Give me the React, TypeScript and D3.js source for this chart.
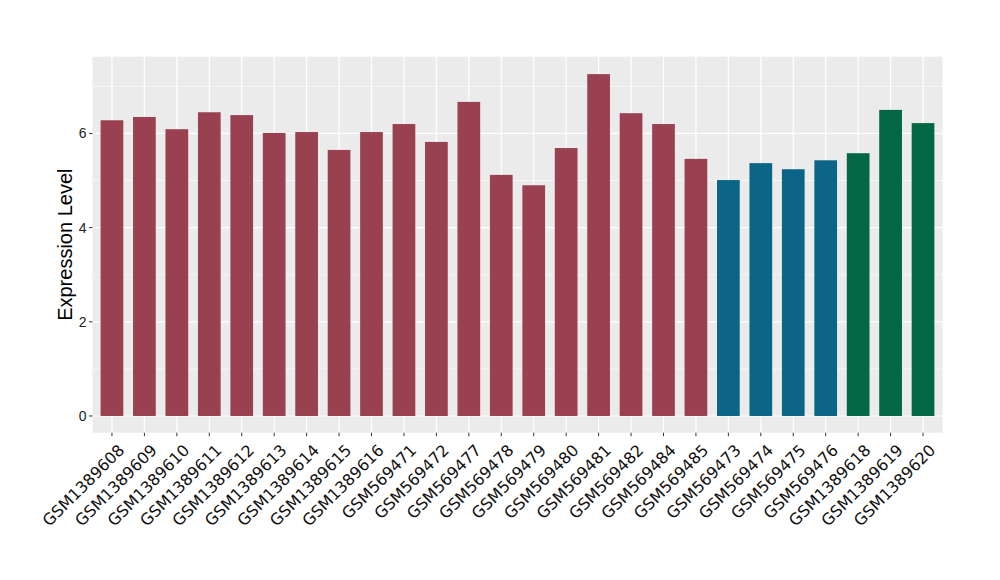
import React from "react";
import * as d3 from "d3";

const samples = ["GSM1389608","GSM1389609","GSM1389610","GSM1389611","GSM1389612","GSM1389613","GSM1389614","GSM1389615","GSM1389616","GSM569471","GSM569472","GSM569477","GSM569478","GSM569479","GSM569480","GSM569481","GSM569482","GSM569484","GSM569485","GSM569473","GSM569474","GSM569475","GSM569476","GSM1389618","GSM1389619","GSM1389620"];
const values = [6.28,6.35,6.09,6.45,6.39,6.01,6.03,5.65,6.03,6.2,5.82,6.67,5.12,4.9,5.69,7.26,6.43,6.2,5.46,5.01,5.37,5.24,5.43,5.58,6.5,6.22];
const groups = [0,0,0,0,0,0,0,0,0,0,0,0,0,0,0,0,0,0,0,1,1,1,1,2,2,2];
const groupColors = ["#9A4151","#0A6587","#016745"];
const yTicks = [0,2,4,6];
const yMinor = [1,3,5,7];

export default function App() {
  const W = 1000, H = 580;
  const left = 92.5, right = 942.5, top = 56.7, bottom = 432.7;
  const n = samples.length;
  const step = (right - left) / (n - 1 + 1.2);
  const x = (i: number) => left + (0.6 + i) * step;
  const barW = step * 0.7;
  const y = d3.scaleLinear().domain([-0.355, 7.63]).range([bottom, top]);
  const font = "Liberation Sans, Arial, sans-serif";
  const xfont = "DejaVu Sans, sans-serif";
  return (
    <svg width={W} height={H} style={{ display: "block", position: "absolute", left: 0, top: 0 }}>
      <rect x={0} y={0} width={W} height={H} fill="#fff" />
      <rect x={left} y={top} width={right - left} height={bottom - top} fill="#EBEBEB" />
      {yMinor.map(t => (
        <line key={"m" + t} x1={left} x2={right} y1={y(t)} y2={y(t)} stroke="#fff" strokeWidth={0.6} />
      ))}
      {yTicks.map(t => (
        <line key={"g" + t} x1={left} x2={right} y1={y(t)} y2={y(t)} stroke="#fff" strokeWidth={1.2} />
      ))}
      {samples.map((s, i) => (
        <line key={"v" + s} x1={x(i)} x2={x(i)} y1={top} y2={bottom} stroke="#fff" strokeWidth={1.2} />
      ))}
      {samples.map((s, i) => (
        <rect key={"b" + s} x={x(i) - barW / 2} y={y(values[i])} width={barW} height={y(0) - y(values[i])} fill={groupColors[groups[i]]} />
      ))}
      {yTicks.map(t => (
        <g key={"t" + t}>
          <line x1={left - 3.5} x2={left} y1={y(t)} y2={y(t)} stroke="#333" strokeWidth={1} />
          <text x={left - 6} y={y(t)} dy="0.35em" textAnchor="end" fontSize={14} fill="#222" fontFamily={font}>{t}</text>
        </g>
      ))}
      {samples.map((s, i) => (
        <g key={"x" + s}>
          <line x1={x(i)} x2={x(i)} y1={bottom} y2={bottom + 3.5} stroke="#333" strokeWidth={1} />
          <text transform={`translate(${x(i) + 5},${bottom + 10}) rotate(-45)`} textAnchor="end" dy="0.75em" fontSize={16} fill="#111" fontFamily={xfont}>{s}</text>
        </g>
      ))}
      <text transform={`translate(72,${(top + bottom) / 2}) rotate(-90)`} textAnchor="middle" fontSize={20} fill="#000" fontFamily={font}>Expression Level</text>
    </svg>
  );
}
